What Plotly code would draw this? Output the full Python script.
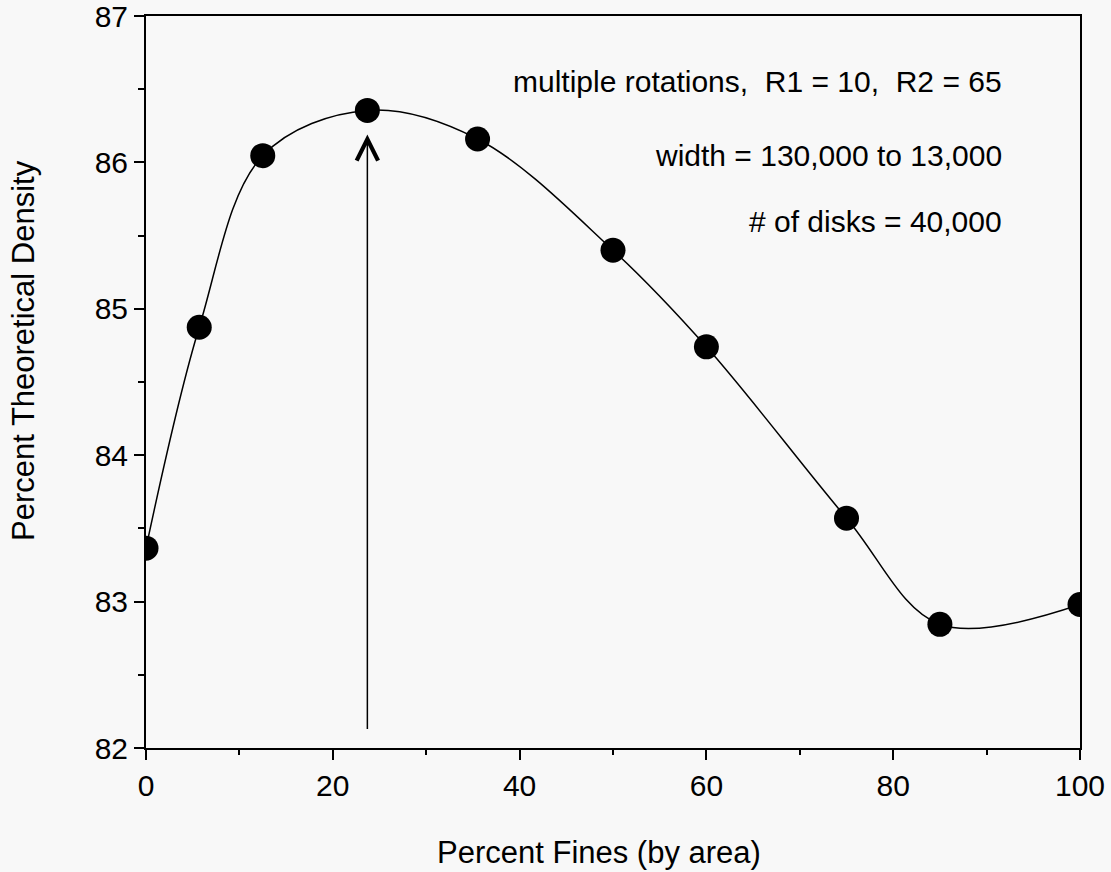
import plotly.graph_objects as go

# Data
fines = [0, 5.7, 12.5, 23.7, 35.5, 50, 60, 75, 85, 100]
density = [83.365, 84.874, 86.046, 86.355, 86.16, 85.40, 84.74, 83.57, 82.845, 82.98]

arrow_x = 23.7
arrow_from = 82.12
arrow_to = 86.19

notes = [
    "multiple rotations,  R1 = 10,  R2 = 65",
    "width = 130,000 to 13,000",
    "# of disks = 40,000",
]

x_ticks = [0, 20, 40, 60, 80, 100]
y_ticks = [82, 83, 84, 85, 86, 87]

x_title = "Percent Fines (by area)"
y_title = "Percent Theoretical Density"

FONT = "Liberation Sans, Arial, sans-serif"
BG = "#f8f8f8"

fig = go.Figure()

fig.add_trace(go.Scatter(
    x=fines, y=density,
    mode="lines+markers",
    line=dict(color="black", width=1.5, shape="spline", smoothing=1.0),
    marker=dict(color="black", size=25),
    showlegend=False,
    hoverinfo="skip",
))

# Arrow pointing to the maximum
fig.add_annotation(
    x=arrow_x, y=arrow_to, ax=arrow_x, ay=arrow_from,
    xref="x", yref="y", axref="x", ayref="y",
    text="", showarrow=True,
    arrowhead=5, arrowsize=2.8, arrowwidth=1.5, arrowcolor="black",
    standoff=0, startstandoff=0,
)

note_y = [0.9103, 0.8101, 0.719]
for txt, yy in zip(notes, note_y):
    fig.add_annotation(
        x=0.9186, y=yy, xref="paper", yref="paper",
        text=txt, showarrow=False,
        xanchor="right", yanchor="middle",
        font=dict(family=FONT, size=30, color="black"),
    )

# Axis titles
fig.add_annotation(
    x=0.485, y=-0.1434, xref="paper", yref="paper",
    text=x_title, showarrow=False, xanchor="center", yanchor="middle",
    font=dict(family=FONT, size=31, color="black"),
)
fig.add_annotation(
    x=-0.1317, y=0.5437, xref="paper", yref="paper",
    text=y_title, showarrow=False, xanchor="center", yanchor="middle",
    textangle=-90,
    font=dict(family=FONT, size=31, color="black"),
)

axis_common = dict(
    showgrid=False, zeroline=False, automargin=False,
    showline=True, linecolor="black", linewidth=2, mirror=True,
    ticks="outside", tickcolor="black", tickwidth=2, ticklen=10,
    tickfont=dict(family=FONT, size=30, color="black"),
    ticklabeloverflow="allow",
)

fig.update_xaxes(
    range=[0, 100], tickvals=x_ticks,
    minor=dict(dtick=10, ticks="outside", ticklen=5, tickwidth=2, tickcolor="black", showgrid=False),
    **axis_common,
)
fig.update_yaxes(
    range=[82, 87], tickvals=y_ticks,
    minor=dict(dtick=0.5, ticks="outside", ticklen=6, tickwidth=2, tickcolor="black", showgrid=False),
    **axis_common,
)

fig.update_layout(
    width=1111, height=872,
    margin=dict(l=146, r=31, t=16, b=124),
    paper_bgcolor=BG, plot_bgcolor=BG,
    font=dict(family=FONT, color="black"),
)

# Remove the default 8px page margin so the figure fills the window exactly
fig.write_html(
    "out.html",
    config={"displayModeBar": False},
    post_script="document.body.style.margin='0';document.body.style.overflow='hidden';",
)
